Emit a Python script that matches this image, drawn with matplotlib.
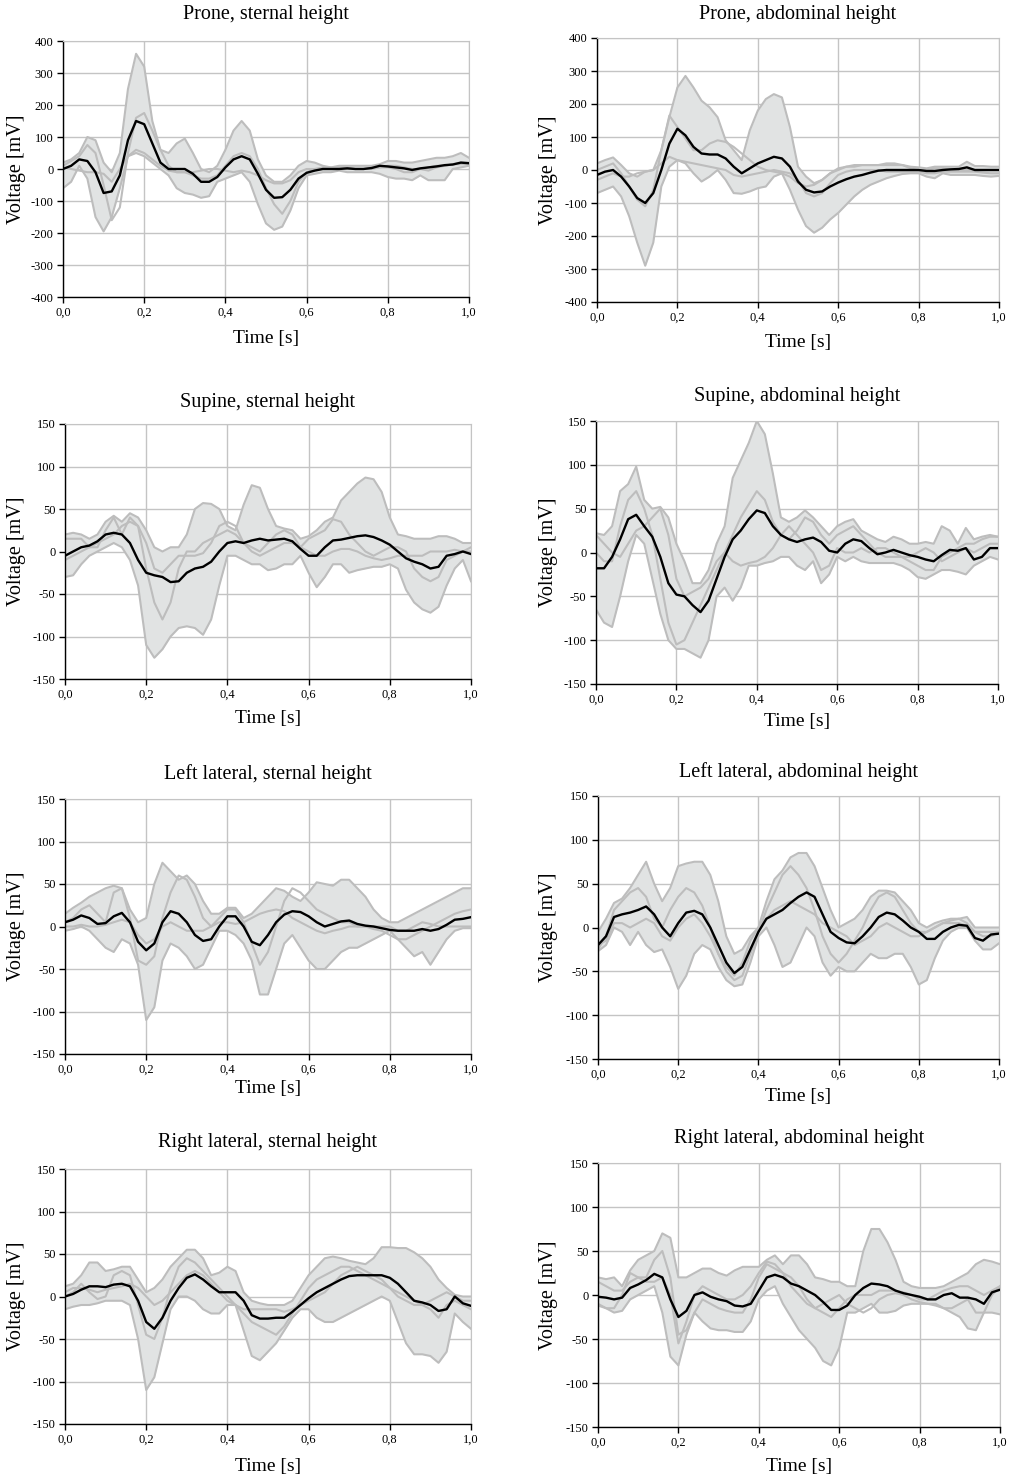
import numpy as np
import matplotlib.pyplot as plt

plt.rcParams['font.family'] = ['Liberation Serif', 'DejaVu Serif']

# %%
# time axis, one reading every 20 ms
time = np.round(np.arange(51) * 0.02, 2)

# Prone, sternal height
prone_st_hi = [20, 30, 50, 100, 90, 20, -10, 50, 250, 360, 320, 150, 60, 50, 80, 95, 50, 0, -10, 10,
               60, 120, 150, 120, 30, -20, -40, -40, -20, 10, 25, 20, 10, 5, 10, 10, 10, 10, 10, 15,
               25, 25, 20, 20, 25, 30, 35, 35, 40, 50, 35]
prone_st_lo = [-60, -40, 10, -30, -150, -195, -150, -60, 40, 50, 40, 20, 0, -20, -60, -75, -80, -90, -85, -40,
               -30, -20, -10, -40, -110, -170, -190, -180, -130, -60, -20, -15, -10, -10, -5, -10, -10, -10, -10, -15,
               -25, -30, -30, -35, -20, -35, -35, -35, 0, 5, 10]
prone_st_a = [10, 25, 40, 75, 50, -50, -160, -120, 50, 160, 175, 120, 60, 10, -10, -10, -20, -30, -30, -20,
              10, 40, 50, 40, 0, -60, -110, -140, -100, -40, -10, 0, 0, 0, 5, 5, 0, 0, 5, 5,
              5, 0, -10, -10, 0, -5, 5, 10, 15, 15, 15]
prone_st_b = [5, 0, -5, -10, -10, -15, -40, 0, 40, 60, 50, 30, 10, -5, -10, -10, -10, -5, 0, 0,
              -5, -10, -5, -10, -20, -35, -45, -45, -35, -10, 0, 0, 5, 5, 0, 0, 0, 0, 0, 5,
              10, 10, 5, 0, 0, 5, 10, 10, 15, 20, 20]
prone_st_mean = [0, 10, 30, 25, -10, -75, -70, -20, 90, 150, 140, 80, 20, 0, 0, 0, -15, -40, -40, -25,
                 5, 30, 40, 30, -15, -65, -90, -88, -65, -30, -12, -5, 0, 0, 0, 2, 0, 0, 3, 10,
                 8, 5, 2, -3, 2, 5, 8, 12, 14, 20, 18]

# Prone, abdominal height
prone_ab_hi = [20, 30, 38, 15, -10, -20, -5, 0, 60, 160, 250, 285, 250, 210, 190, 160, 90, 60, 30, 120,
               180, 215, 230, 220, 130, 10, -20, -40, -30, -10, 0, 10, 15, 15, 15, 15, 20, 20, 15, 10,
               8, 5, 10, 10, 10, 10, 25, 12, 12, 10, 10]
prone_ab_lo = [-70, -60, -50, -80, -140, -220, -290, -220, -50, 10, 30, 20, -10, -35, -20, 0, -30, -70, -72, -65,
               -55, -50, -20, -10, -60, -120, -170, -190, -175, -150, -130, -105, -80, -60, -45, -35, -25, -18, -12, -10,
               -10, -20, -25, -10, -15, -15, -15, -15, -18, -20, -18]
prone_ab_a = [0, 10, 20, -10, -50, -90, -110, -60, 60, 165, 130, 95, 60, 60, 80, 90, 85, 70, 50, 30,
              10, 0, -5, -10, -20, -40, -50, -45, -30, -10, 5, 10, 10, 15, 15, 15, 15, 15, 15, 5,
              0, 0, 5, 5, 0, 0, 0, 0, 0, 0, 0]
prone_ab_b = [-30, -20, -10, -20, -20, -10, -5, 0, 20, 40, 30, 25, 20, 15, 10, 5, 0, -15, -20, -15,
              -10, -5, 0, -5, -10, -30, -70, -80, -70, -40, -15, -5, 0, 0, 0, 0, -5, -5, -5, -5,
              -5, -10, -10, -5, -5, -5, -5, -5, -8, -10, -10]
prone_ab_mean = [-15, -5, 0, -20, -50, -85, -100, -70, 0, 80, 125, 105, 70, 50, 47, 47, 35, 10, -10, 5,
                 20, 30, 40, 35, 10, -35, -60, -68, -65, -50, -38, -28, -20, -15, -8, -2, 0, 0, 0, 0,
                 0, -3, -3, 0, 2, 3, 8, 0, 0, 0, 0]

# Supine, sternal height
supine_st_hi = [20, 22, 20, 15, 20, 35, 42, 35, 45, 40, 25, 5, 0, 5, 5, 20, 50, 57, 56, 50,
                30, 25, 55, 78, 75, 50, 30, 27, 25, 15, 18, 25, 35, 40, 60, 70, 80, 87, 85, 70,
                40, 20, 18, 15, 15, 15, 18, 18, 15, 10, 10]
supine_st_lo = [-30, -28, -15, -5, 0, 5, 10, 5, -10, -40, -110, -125, -115, -100, -90, -88, -90, -98, -80, -40,
                -5, -5, -10, -15, -15, -22, -20, -15, -15, -5, -25, -42, -30, -15, -15, -25, -22, -20, -18, -18,
                -15, -20, -45, -60, -68, -72, -65, -40, -20, -10, -35]
supine_st_a = [15, 15, 15, 5, 5, 25, 40, 20, 40, 30, -20, -60, -80, -60, -20, 0, 0, 10, 15, 20,
               25, 20, 10, 5, 0, 10, 20, 25, 20, 5, 15, 20, 25, 38, 35, 20, 10, 0, -5, 0,
               5, 5, 0, -20, -30, -35, -30, -10, -5, 0, 5]
supine_st_b = [-10, -5, 0, 5, 10, 15, 20, 30, 35, 30, 10, -20, -25, -15, -5, -5, -5, -2, 10, 30,
               35, 30, 10, 0, -5, 0, 5, 10, 10, 5, 0, -5, -5, 0, 3, 3, 0, -5, -8, -10,
               -8, -5, -5, -5, -5, 0, 0, 0, 2, 0, 0]
supine_st_mean = [-5, 0, 5, 7, 12, 20, 22, 20, 10, -10, -25, -28, -30, -36, -35, -25, -20, -18, -12, 0,
                  10, 12, 10, 13, 15, 13, 14, 15, 12, 3, -5, -5, 5, 13, 14, 16, 18, 19, 17, 13,
                  8, 0, -8, -12, -15, -20, -18, -5, -3, 0, -3]

# Supine, abdominal height
supine_ab_hi = [22, 20, 30, 70, 78, 98, 60, 50, 52, 40, 10, -10, -35, -35, -20, 10, 30, 85, 105, 125,
                150, 135, 90, 40, 35, 40, 48, 40, 30, 20, 30, 35, 38, 25, 20, 15, 12, 18, 15, 10,
                10, 12, 10, 30, 25, 10, 28, 15, 18, 20, 18]
supine_ab_lo = [-65, -80, -85, -50, -10, 20, 10, -30, -70, -100, -110, -110, -115, -120, -100, -50, -40, -55, -40, -15,
                -15, -12, -10, -5, -5, -15, -20, -10, -35, -25, -5, -10, -5, -10, -12, -12, -12, -12, -15, -20,
                -28, -30, -25, -20, -20, -22, -25, -15, -10, -5, -8]
supine_ab_a = [0, -10, -10, 30, 60, 70, 50, 20, -30, -80, -105, -100, -80, -60, -40, -20, 0, 20, 40, 55,
               70, 60, 35, 20, 15, 25, 40, 35, 20, 10, 20, 25, 30, 20, 10, 0, -5, -5, -5, -10,
               -15, -20, -20, -5, 0, 5, 10, 10, 15, 18, 18]
supine_ab_b = [20, 10, 0, -5, 10, 25, 30, 40, 50, 20, -30, -50, -45, -40, -30, -10, 0, -10, -15, -12,
               -10, -5, 5, 20, 30, 20, 10, 0, -20, -15, 5, 0, 0, 5, 0, 5, 5, 0, -5, -5,
               0, 5, 0, -10, -5, 0, 5, 0, 5, 10, 10]
supine_ab_mean = [-18, -18, -5, 15, 38, 43, 30, 18, -5, -35, -48, -50, -60, -68, -55, -30, -5, 15, 25, 38,
                  48, 45, 30, 20, 15, 12, 15, 17, 12, 2, 0, 10, 15, 13, 5, -2, 0, 3, 0, -3,
                  -5, -8, -10, -3, 3, 2, 5, -8, -5, 5, 5]

# Left lateral, sternal height
left_st_hi = [15, 22, 28, 35, 40, 45, 48, 45, 20, 5, 10, 50, 75, 65, 55, 60, 50, 30, 15, 15,
              22, 22, 10, 15, 25, 35, 45, 42, 35, 30, 40, 52, 50, 48, 55, 55, 45, 35, 20, 10,
              5, 5, 10, 15, 20, 25, 30, 35, 40, 45, 45]
left_st_lo = [-5, -3, 0, -5, -15, -25, -30, -15, -20, -45, -110, -95, -40, -20, -25, -35, -50, -45, -25, -5,
              -5, -10, -20, -40, -80, -80, -50, -20, -10, -25, -40, -50, -50, -40, -30, -25, -25, -20, -15, -10,
              -5, -15, -25, -35, -30, -45, -30, -15, -5, -2, -2]
left_st_a = [5, 10, 20, 25, 15, 5, 40, 45, 10, -40, -45, -35, 10, 40, 60, 55, 35, 10, 0, 10,
             20, 20, 5, -20, -45, -30, 0, 30, 45, 40, 30, 20, 15, 10, 5, 5, 0, 0, -3, -5,
             -10, -15, -15, -10, -5, 0, 5, 10, 15, 18, 20]
left_st_b = [0, 0, 2, 0, 0, 2, 5, 8, 5, -10, -20, -15, 0, 5, 0, -5, -5, -5, 0, 5,
             5, 3, 5, 10, 15, 18, 20, 18, 10, 5, 0, -5, -8, -5, -3, 0, 0, 0, 0, 0,
             0, -5, -5, 0, 5, 3, 0, 0, 0, 0, 0]
left_st_mean = [5, 8, 13, 10, 3, 4, 12, 16, 5, -18, -28, -20, 5, 18, 15, 5, -10, -17, -15, 0,
                12, 12, 0, -18, -22, -10, 5, 14, 18, 17, 12, 5, 0, 3, 6, 7, 3, 1, 0, -2,
                -4, -5, -5, -5, -3, -5, -3, 2, 8, 9, 11]

# Left lateral, abdominal height
left_ab_hi = [-5, 10, 28, 33, 45, 60, 75, 50, 30, 45, 70, 73, 75, 75, 60, 30, -10, -30, -25, -10,
              0, 30, 55, 65, 80, 85, 85, 70, 45, 20, 0, 5, 10, 20, 35, 42, 42, 40, 30, 20,
              5, 0, 5, 8, 10, 10, 12, 0, 0, 0, 0]
left_ab_lo = [-27, -20, 0, -5, -20, -5, -20, -28, -25, -45, -70, -55, -30, -20, -25, -45, -60, -67, -65, -40,
              -10, 0, -20, -45, -40, -20, 0, -10, -40, -55, -45, -50, -50, -40, -30, -35, -35, -30, -30, -45,
              -65, -60, -35, -15, -5, 0, 0, -15, -25, -25, -18]
left_ab_a = [-25, -10, 20, 30, 40, 45, 35, 10, 0, 20, 35, 45, 40, 25, 0, -30, -50, -60, -55, -30,
             -5, 20, 40, 60, 70, 60, 45, 20, -10, -30, -40, -30, -15, 0, 20, 35, 40, 35, 20, 5,
             -5, -5, 0, 5, 8, 10, 5, -5, -10, -10, -5]
left_ab_b = [-20, -15, 5, 5, 0, 5, 10, 5, -10, -15, 0, 10, 15, 5, -10, -30, -45, -55, -40, -15,
             0, 10, 20, 25, 30, 25, 20, 15, 5, 0, -5, -10, -20, -15, -10, 0, 5, 0, -5, -10,
             -10, -5, 0, 5, 5, 5, 2, -5, -5, -5, -5]
left_ab_mean = [-20, -10, 12, 15, 17, 20, 24, 15, 0, -10, 5, 17, 19, 15, 0, -20, -40, -52, -45, -25,
                -5, 10, 15, 20, 28, 35, 40, 35, 15, -5, -12, -17, -18, -10, 0, 12, 17, 15, 8, 0,
                -5, -13, -13, -5, 0, 3, 2, -12, -15, -8, -7]

# Right lateral, sternal height
right_st_hi = [12, 15, 25, 40, 40, 30, 32, 35, 35, 20, 5, 10, 20, 35, 45, 55, 55, 45, 25, 28,
               35, 30, 5, -5, -8, -10, -10, -10, -5, 10, 25, 35, 45, 47, 45, 42, 40, 38, 45, 58,
               58, 57, 57, 52, 45, 35, 20, 10, 2, 0, 0]
right_st_lo = [-15, -12, -10, -10, -8, -5, -5, -5, -10, -50, -110, -95, -55, -15, 0, 0, -5, -15, -20, -20,
               -10, -10, -40, -70, -75, -65, -55, -40, -25, -15, -15, -25, -30, -30, -25, -20, -15, -10, -5, 0,
               -5, -30, -55, -68, -68, -70, -78, -65, -20, -30, -38]
right_st_a = [0, 5, 15, 5, -3, 0, 25, 30, 25, -10, -45, -50, -25, 10, 35, 45, 40, 30, 20, 10,
              0, -10, -20, -30, -35, -40, -45, -35, -20, -5, 10, 20, 25, 30, 35, 35, 30, 25, 20, 15,
              10, 5, 0, -5, -10, -15, -25, -10, -5, -10, -15]
right_st_b = [5, 10, 10, 8, 5, 8, 10, 12, 15, 10, 0, -10, -5, 5, 15, 25, 30, 25, 15, 5,
              -5, -10, -15, -15, -15, -15, -15, -18, -15, -10, -5, 0, 5, 15, 25, 30, 35, 30, 25, 20,
              10, 0, -5, -10, -10, -5, 0, 5, 0, -5, -5]
right_st_mean = [0, 3, 8, 12, 12, 11, 14, 15, 12, -5, -30, -38, -25, -5, 10, 22, 26, 20, 12, 5,
                 5, 5, -5, -22, -26, -26, -25, -25, -18, -10, -2, 5, 10, 15, 20, 24, 25, 25, 25, 25,
                 22, 15, 5, -5, -7, -10, -17, -15, 0, -8, -11]

# Right lateral, abdominal height
right_ab_hi = [20, 18, 20, 10, 28, 40, 45, 50, 70, 65, 20, 20, 25, 30, 30, 25, 22, 28, 32, 32,
               32, 40, 45, 35, 45, 45, 35, 20, 18, 15, 15, 10, 10, 50, 75, 75, 60, 40, 15, 10,
               8, 8, 8, 10, 15, 20, 25, 35, 40, 38, 35]
right_ab_lo = [-12, -15, -20, -18, -5, 0, 5, 10, -20, -70, -80, -45, -20, -30, -38, -40, -40, -42, -42, -30,
               -5, 5, 10, -10, -25, -40, -50, -60, -75, -80, -60, -20, -20, -15, -10, -20, -20, -18, -12, -10,
               -10, -10, -10, -15, -20, -25, -38, -40, -20, -20, -22]
right_ab_a = [-10, -15, -15, 0, 25, 20, 20, 40, 50, 20, -45, -40, -20, -5, -10, -15, -18, -20, -20, -5,
              20, 35, 30, 25, 20, 10, -5, -15, -20, -25, -15, -5, 0, 0, 0, 5, 5, 5, 3, 0,
              -5, -5, 0, 5, 8, 10, 10, 5, 0, 5, 10]
right_ab_b = [15, 10, 5, 5, 15, 20, 15, 15, 20, 0, -55, -30, 0, 10, 5, 0, -5, -5, 0, 10,
              25, 38, 35, 25, 10, 0, -10, -15, -10, -5, 0, -10, -15, -20, -15, -5, 0, 2, 0, -5,
              -8, -10, -12, -15, -15, -10, -5, -20, -20, 0, 10]
right_ab_mean = [-2, -3, -5, -3, 8, 12, 17, 24, 20, -5, -25, -18, 0, 3, -2, -5, -7, -12, -13, -10,
                 5, 20, 23, 20, 13, 10, 5, 0, -8, -17, -17, -12, 0, 8, 13, 12, 10, 5, 2, 0,
                 -2, -5, -5, 0, 2, -3, -3, -5, -10, 3, 6]

titles = ['Prone, sternal height', 'Prone, abdominal height',
          'Supine, sternal height', 'Supine, abdominal height',
          'Left lateral, sternal height', 'Left lateral, abdominal height',
          'Right lateral, sternal height', 'Right lateral, abdominal height']

x_ticks = [0.0, 0.2, 0.4, 0.6, 0.8, 1.0]
x_ticklabels = ['0,0', '0,2', '0,4', '0,6', '0,8', '1,0']
y_ticks_prone = [-400, -300, -200, -100, 0, 100, 200, 300, 400]
y_ticks_other = [-150, -100, -50, 0, 50, 100, 150]

# %%
panels = [
    (prone_st_hi, prone_st_lo, prone_st_a, prone_st_b, prone_st_mean, y_ticks_prone),
    (prone_ab_hi, prone_ab_lo, prone_ab_a, prone_ab_b, prone_ab_mean, y_ticks_prone),
    (supine_st_hi, supine_st_lo, supine_st_a, supine_st_b, supine_st_mean, y_ticks_other),
    (supine_ab_hi, supine_ab_lo, supine_ab_a, supine_ab_b, supine_ab_mean, y_ticks_other),
    (left_st_hi, left_st_lo, left_st_a, left_st_b, left_st_mean, y_ticks_other),
    (left_ab_hi, left_ab_lo, left_ab_a, left_ab_b, left_ab_mean, y_ticks_other),
    (right_st_hi, right_st_lo, right_st_a, right_st_b, right_st_mean, y_ticks_other),
    (right_ab_hi, right_ab_lo, right_ab_a, right_ab_b, right_ab_mean, y_ticks_other),
]

# axes boxes in pixels of the original page: left, right, top, bottom
boxes = [(63, 469, 41, 297), (597, 999, 38, 302),
         (65, 471, 424, 679), (596, 998, 421, 684),
         (65, 471, 799, 1054), (598, 999, 796, 1059),
         (65, 471, 1169, 1424), (598, 1000, 1163, 1427)]
title_y = [15, 14, 402, 397, 774, 772, 1143, 1139]
xlabel_y = [338, 342, 718, 722, 1089, 1096, 1466, 1467]

W, H = 1009, 1481
fig = plt.figure(figsize=(W / 100, H / 100), dpi=100)

band_color = '#e1e3e3'
trace_color = '#bdbdbd'
grid_color = '#c4c4c4'

for i, (hi, lo, a, b, mean, yt) in enumerate(panels):
    l, r, t, bt = boxes[i]
    ax = fig.add_axes([l / W, 1 - bt / H, (r - l) / W, (bt - t) / H])

    ax.fill_between(time, lo, hi, color=band_color, lw=0, zorder=1)
    for tr in (hi, lo, a, b):
        ax.plot(time, tr, color=trace_color, lw=1.5, zorder=2)
    ax.plot(time, mean, color='black', lw=1.7, zorder=3)

    ax.set_xlim(0, 1)
    ax.set_ylim(yt[0], yt[-1])
    ax.set_xticks(x_ticks)
    ax.set_xticklabels(x_ticklabels)
    ax.set_yticks(yt)
    ax.set_yticklabels([str(v) for v in yt])
    ax.grid(True, color=grid_color, lw=1.0, zorder=0)
    ax.set_axisbelow(True)

    for side in ('top', 'right'):
        ax.spines[side].set_color(grid_color)
    for side in ('left', 'bottom'):
        ax.spines[side].set_color('black')
        ax.spines[side].set_linewidth(1.0)
    ax.tick_params(direction='out', length=4, width=1, labelsize=9, pad=3,
                   top=False, right=False)

    xc = (l + r) / 2 / W
    fig.text(xc, 1 - title_y[i] / H, titles[i], ha='center', va='center', fontsize=14.5)
    fig.text(xc, 1 - xlabel_y[i] / H, 'Time [s]', ha='center', va='center', fontsize=14)
    ylx = 17 if l < 300 else 548
    fig.text(ylx / W, 1 - (t + bt) / 2 / H, 'Voltage [mV]', ha='center', va='center',
             rotation=90, fontsize=14.5)

fig.savefig('out.png', dpi=100)
